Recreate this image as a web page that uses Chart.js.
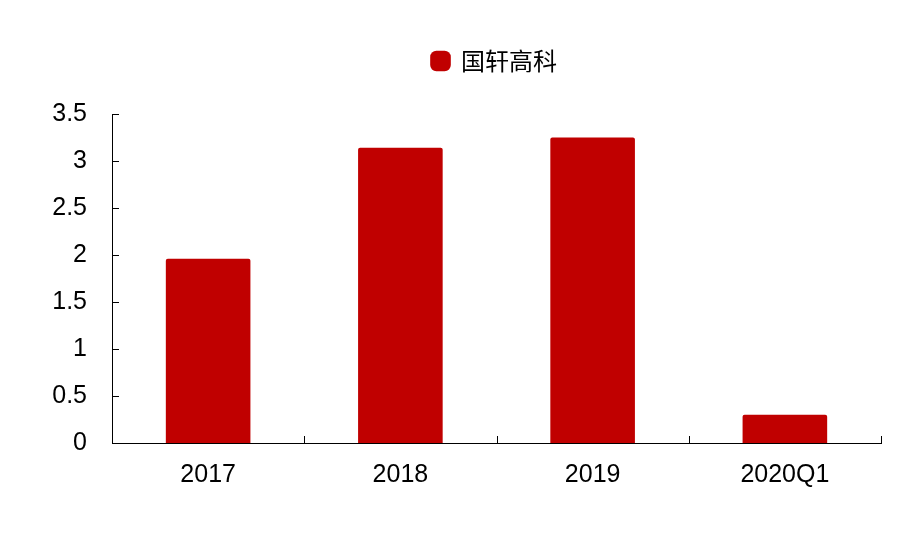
<!DOCTYPE html>
<html>
<head>
<meta charset="utf-8">
<script src="https://cdn.jsdelivr.net/npm/chart.js@4"></script>
<style>
	html, body { margin: 0; padding: 0; background: #fff; }
	#wrap { width: 917px; height: 538px; }
</style>
</head>
<body>
<div id="wrap"><canvas id="chart"></canvas></div>
<script>
const CATEGORIES = ["2017", "2018", "2019", "2020Q1"];
const SERIES_NAME = "国轩高科";
const VALUES = [1.96, 3.14, 3.25, 0.30];
const Y_MIN = 0;
const Y_MAX = 3.5;
const Y_STEP = 0.5;

const FONT = "'Liberation Sans', Arial, sans-serif";
const RED = "#C00000";

// inward tick marks, like the original office chart
const axisTicks = {
	id: "axisTicks",
	afterDraw: (chart) => {
		const ctx = chart.ctx;
		const x = chart.scales.x;
		const y = chart.scales.y;
		ctx.save();
		ctx.strokeStyle = "#000";
		ctx.lineWidth = 1;
		ctx.beginPath();
		for (let v = Y_MIN; v <= Y_MAX + 1e-9; v += Y_STEP) {
			const py = Math.round(y.getPixelForValue(v)) + 0.5;
			ctx.moveTo(x.left, py);
			ctx.lineTo(x.left + 7, py);
		}
		for (let i = 1; i <= CATEGORIES.length; i++) {
			const px = Math.round(x.getPixelForValue(i - 0.5)) + 0.5;
			ctx.moveTo(px, y.bottom);
			ctx.lineTo(px, y.bottom - 7);
		}
		ctx.stroke();
		ctx.restore();
	},
};

// legend sits over the plot centre, not the canvas centre
const moveLegend = {
	id: "moveLegend",
	afterLayout: (chart) => {
		const lg = chart.legend;
		const dx = 54;
		const dy = 64 - (lg.top + lg.height / 2);
		lg.left += dx;
		lg.right += dx;
		lg.top += dy;
		lg.bottom += dy;
	},
};

const ctx = document.getElementById("chart").getContext("2d");

new Chart(ctx, {
	type: "bar",
	data: {
		labels: CATEGORIES,
		datasets: [
			{
				label: SERIES_NAME,
				data: VALUES,
				backgroundColor: RED,
				borderColor: RED,
				borderWidth: 0,
				borderRadius: 2,
				borderSkipped: "bottom",
				categoryPercentage: 0.44,
				barPercentage: 1,
			},
		],
	},
	options: {
		responsive: true,
		maintainAspectRatio: false,
		animation: false,
		layout: { padding: { top: 76, right: 36, left: 0, bottom: 0 } },
		plugins: {
			tooltip: { enabled: false },
			legend: {
				position: "top",
				labels: {
					color: "#000",
					font: { family: "'Noto Sans CJK SC', " + FONT, size: 24 },
					boxWidth: 17,
					boxHeight: 17,
					usePointStyle: true,
					pointStyle: "rectRounded",
					padding: 4,
				},
			},
		},
		scales: {
			x: {
				grid: { display: false, drawTicks: false },
				border: { display: true, color: "#000", width: 1 },
				ticks: {
					color: "#000",
					font: { family: FONT, size: 25 },
					padding: 17,
				},
				afterFit: (s) => { s.height = 95; },
			},
			y: {
				min: Y_MIN,
				max: Y_MAX,
				grid: { display: false, drawTicks: false },
				border: { display: true, color: "#000", width: 1 },
				ticks: {
					stepSize: Y_STEP,
					color: "#000",
					font: { family: FONT, size: 25 },
					padding: 25,
					callback: (v) => String(v),
				},
				afterFit: (s) => { s.width = 112; },
			},
		},
	},
	plugins: [axisTicks, moveLegend],
});
</script>
</body>
</html>
